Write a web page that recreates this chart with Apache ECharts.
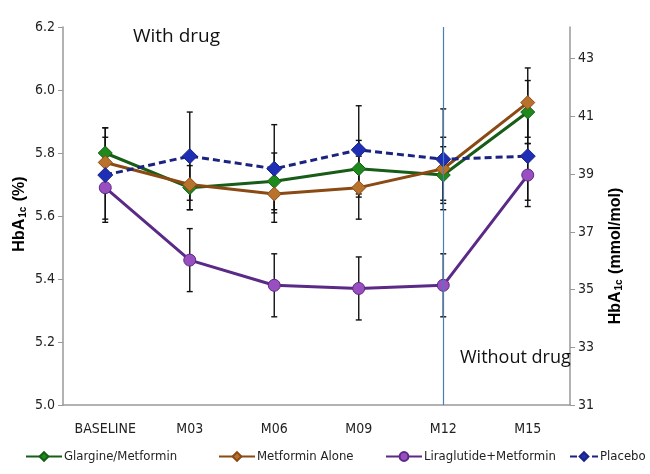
<!DOCTYPE html>
<html><head><meta charset="utf-8">
<script src="https://cdn.jsdelivr.net/npm/echarts@6/dist/echarts.min.js"></script>
<style>html,body{margin:0;padding:0;background:#fff}#c{width:650px;height:474px}</style>
</head><body><div id="c"></div>
<script>
const categories = ['BASELINE','M03','M06','M09','M12','M15'];
const seriesNames = ['Glargine/Metformin', 'Metformin Alone', 'Liraglutide+Metformin', 'Placebo'];
const glargine = [5.80, 5.69, 5.71, 5.75, 5.73, 5.93];
const metformin = [5.77, 5.70, 5.67, 5.69, 5.75, 5.96];
const liraglutide = [5.69, 5.46, 5.38, 5.37, 5.38, 5.73];
const placebo = [5.73, 5.79, 5.75, 5.81, 5.78, 5.79];
const glargineErr = [0.08, 0.07, 0.09, 0.09, 0.09, 0.10];
const metforminErr = [0.08, 0.08, 0.09, 0.10, 0.10, 0.11];
const liraglutideErr = [0.10, 0.10, 0.10, 0.10, 0.10, 0.10];
const placeboErr = [0.15, 0.14, 0.14, 0.14, 0.16, 0.14];

const font = "'DejaVu Sans Condensed', 'Liberation Sans', Arial, sans-serif";
const chart = echarts.init(document.getElementById('c'));

function errSeries(vals, errs) {
  return {
    type: 'custom', z: 1, silent: true, yAxisIndex: 0,
    data: vals.map((v, i) => [i, v - errs[i], v + errs[i]]),
    renderItem: function (params, api) {
      const x = api.value(0);
      const lo = api.coord([x, api.value(1)]);
      const hi = api.coord([x, api.value(2)]);
      const w = 3;
      const st = { stroke: '#111', lineWidth: 1.4 };
      return { type: 'group', children: [
        { type: 'line', shape: { x1: lo[0], y1: lo[1], x2: hi[0], y2: hi[1] }, style: st },
        { type: 'line', shape: { x1: lo[0]-w, y1: lo[1], x2: lo[0]+w, y2: lo[1] }, style: st },
        { type: 'line', shape: { x1: hi[0]-w, y1: hi[1], x2: hi[0]+w, y2: hi[1] }, style: st }
      ]};
    }
  };
}

function lineSeries(name, vals, color, lineColor, symbol, size, dashed) {
  return {
    name: name, type: 'line', data: vals, yAxisIndex: 0, z: 3,
    symbol: symbol, symbolSize: size,
    lineStyle: { color: lineColor, width: 3, type: dashed ? [7, 4] : 'solid' },
    itemStyle: { color: color, borderColor: lineColor, borderWidth: 1 }
  };
}

const subRich = {
  a: { fontSize: 16, fontWeight: 'bold', color: '#222', fontFamily: 'Liberation Sans, Arial' },
  s: { fontSize: 10, fontWeight: 'bold', color: '#222', fontFamily: 'Liberation Sans, Arial', padding: [7, 1, 0, 1], verticalAlign: 'bottom' }
};

const legendLefts = [20, 213, 380, 564];
const legendIconW = [36, 36, 36, 28];
const legends = seriesNames.map((n, i) => ({
  top: 445, left: legendLefts[i], itemWidth: legendIconW[i], itemHeight: 11, itemGap: 4,
  textStyle: { fontSize: 13, color: '#222', fontFamily: font, padding: [0, 0, 0, -3] },
  data: [n]
}));

const option = {
  animation: false,
  textStyle: { fontFamily: font },
  title: [
    { text: 'With drug', left: 128, top: 22, textStyle: { fontSize: 19, fontWeight: 'normal', color: '#111', fontFamily: "'Open Sans', 'Liberation Sans', sans-serif" } },
    { text: 'Without drug', left: 455, top: 344, textStyle: { fontSize: 18, fontWeight: 'normal', color: '#111', fontFamily: "'Open Sans', 'Liberation Sans', sans-serif" } }
  ],
  graphic: [
    { type: 'text', x: 20, y: 214, rotation: Math.PI / 2,
      style: { text: '{a|HbA}{s|1c}{a| (%)}', rich: subRich, align: 'center', verticalAlign: 'middle' } },
    { type: 'text', x: 616, y: 256, rotation: Math.PI / 2,
      style: { text: '{a|HbA}{s|1c}{a| (mmol/mol)}', rich: subRich, align: 'center', verticalAlign: 'middle' } }
  ],
  grid: { left: 63, right: 80, top: 27, bottom: 69 },
  legend: legends,
  xAxis: {
    type: 'category', data: categories, boundaryGap: true,
    axisLine: { lineStyle: { color: '#999', width: 1.5 } },
    axisTick: { alignWithLabel: true, lineStyle: { color: '#999' } },
    axisLabel: { interval: 0, fontSize: 14, color: '#222', margin: 17, fontFamily: font }
  },
  yAxis: [
    {
      type: 'value', min: 5.0, max: 6.2, interval: 0.2, position: 'left',
      axisLine: { show: true, lineStyle: { color: '#999', width: 1.5 } },
      axisTick: { show: true, lineStyle: { color: '#999' } },
      splitLine: { show: false },
      axisLabel: { fontSize: 14, color: '#222', fontFamily: font, formatter: v => v.toFixed(1) }
    },
    {
      type: 'value', min: 31, max: 44.1, interval: 2, position: 'right',
      axisLine: { show: true, lineStyle: { color: '#999', width: 1.5 } },
      axisTick: { show: true, lineStyle: { color: '#999' } },
      splitLine: { show: false },
      axisLabel: { fontSize: 14, color: '#222', fontFamily: font, showMaxLabel: false }
    }
  ],
  series: [
    errSeries(glargine, glargineErr),
    errSeries(metformin, metforminErr),
    errSeries(liraglutide, liraglutideErr),
    errSeries(placebo, placeboErr),
    Object.assign(lineSeries(seriesNames[0], glargine, '#1e8a1e', '#175c17', 'diamond', 14, false), {
      markLine: { silent: true, symbol: 'none', label: { show: false },
        lineStyle: { color: '#4a7ebb', width: 1.2, type: 'solid' },
        data: [{ xAxis: 'M12' }] }
    }),
    lineSeries(seriesNames[1], metformin, '#b8722c', '#8a4a14', 'diamond', 14, false),
    lineSeries(seriesNames[2], liraglutide, '#9a4fc0', '#5a2a86', 'circle', 12, false),
    lineSeries(seriesNames[3], placebo, '#1f2fb5', '#1a2380', 'diamond', 15, true)
  ]
};
chart.setOption(option);
</script></body></html>
